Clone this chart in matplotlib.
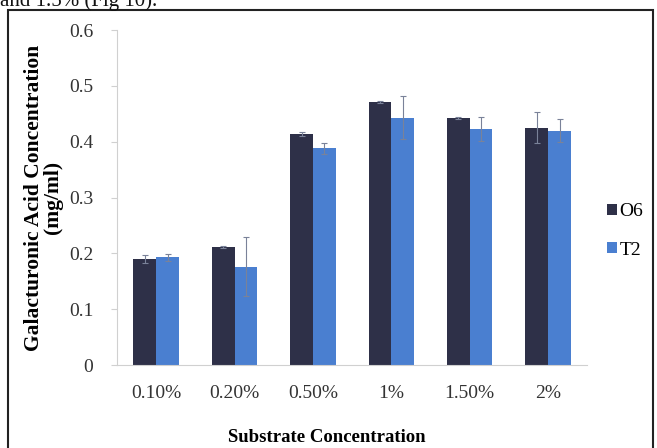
import numpy as np
import matplotlib
matplotlib.use("Agg")
from matplotlib import pyplot as plt
from matplotlib.patches import Rectangle

categories = ["0.10%", "0.20%", "0.50%", "1%", "1.50%", "2%"]
o6 = [0.190, 0.211, 0.414, 0.471, 0.443, 0.425]
t2 = [0.193, 0.176, 0.388, 0.443, 0.423, 0.420]
o6_err = [0.008, 0.002, 0.004, 0.002, 0.002, 0.028]
t2_err = [0.006, 0.053, 0.010, 0.039, 0.022, 0.020]

plt.rcParams['font.family'] = ['Liberation Serif', 'DejaVu Serif']

fig = plt.figure(figsize=(6.57, 4.48), dpi=100)
ax = fig.add_axes([0.178, 0.185, 0.716, 0.748])

x = np.arange(len(categories))
w = 0.29
err_kw = dict(ecolor='#7a8299', elinewidth=0.8, capsize=2, capthick=0.8)
ax.bar(x - w / 2, o6, w, yerr=o6_err, color='#2e3048', label='O6', error_kw=err_kw)
ax.bar(x + w / 2, t2, w, yerr=t2_err, color='#4a7fd0', label='T2', error_kw=err_kw)

ax.set_xlim(-0.5, len(categories) - 0.5)
ax.set_ylim(0, 0.6)
ax.set_yticks(np.arange(0, 0.61, 0.1))
ax.set_yticklabels(["0", "0.1", "0.2", "0.3", "0.4", "0.5", "0.6"])
ax.set_xticks(x)
ax.set_xticklabels(categories)
ax.tick_params(axis='y', length=4, color='#d0d0d0', labelsize=14, colors='#333333', pad=13)
ax.tick_params(axis='x', length=0, labelsize=14, colors='#333333', pad=14)
for s in ['top', 'right']:
    ax.spines[s].set_visible(False)
for s in ['left', 'bottom']:
    ax.spines[s].set_color('#d0d0d0')

ax.set_ylabel("Galacturonic Acid Concentration\n(mg/ml)", fontsize=15.5,
              fontweight='bold', linespacing=0.95)
ax.yaxis.set_label_coords(-0.115, 0.5)
ax.set_xlabel("Substrate Concentration", fontsize=13.5, fontweight='bold')
ax.xaxis.set_label_coords(0.447, -0.19)

ax.legend(loc='center left', bbox_to_anchor=(1.0, 0.40), frameon=False, fontsize=14,
          handlelength=0.5, handleheight=0.5, handletextpad=0.15, labelspacing=1.1,
          borderaxespad=0.6)

# page border and cut-off caption text above the figure
fig.patches.append(Rectangle((8 / 657, -0.05), 645 / 657, 1.05 - 10 / 448,
                             transform=fig.transFigure, fill=False,
                             edgecolor='#222222', linewidth=1.5))
fig.text(0.0, 1 - 6 / 448, "and 1.5% (Fig 10).", fontsize=15, va='baseline',
         ha='left', color='#111111')

fig.savefig("out.png", dpi=100)
